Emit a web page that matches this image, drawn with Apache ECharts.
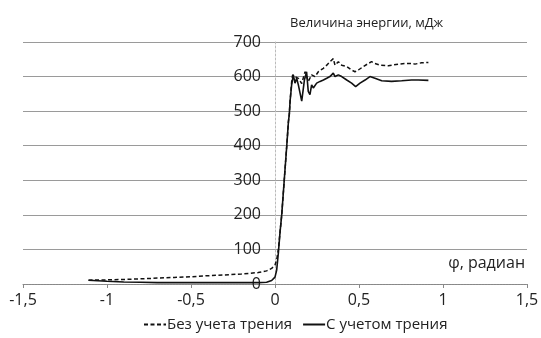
<!DOCTYPE html>
<html><head><meta charset="utf-8">
<script src="https://cdn.jsdelivr.net/npm/echarts@6/dist/echarts.min.js"></script>
<style>html,body{margin:0;padding:0;background:#fff}#c{width:541px;height:338px}</style>
</head><body><div id="c"></div>
<script>
const xTicks = [-1.5, -1, -0.5, 0, 0.5, 1, 1.5];
const yTicks = [0, 100, 200, 300, 400, 500, 600, 700];
const seriesNames = ['Без учета трения', 'С учетом трения'];
const xAxisName = 'φ, радиан';
const yAxisName = 'Величина энергии, мДж';

// Без учета трения (dashed)
const noFrictionX = [-1.11,-1.0,-0.9,-0.8,-0.7,-0.6,-0.5,-0.4,-0.3,-0.2,-0.1,-0.05,-0.02,0.0,0.01,0.02,0.03,0.04,0.055,0.07,0.08,0.085,0.09,0.1,
  0.105,0.119,0.139,0.159,0.179,0.198,0.218,0.238,0.258,0.288,0.308,0.327,0.347,0.357,0.377,0.397,0.427,0.456,0.476,0.496,0.526,0.556,0.575,0.595,0.625,0.675,0.734,0.774,0.813,0.833,0.873,0.913];
const noFrictionY = [11,12,13,15,17,19,21,24,26,29,33,38,45,55,70,100,150,200,300,400,470,490,530,590,
  605,600,595,580,614,586,605,600,614,624,633,643,652,633,643,633,629,619,614,619,629,638,643,638,633,631,636,638,638,636,640,641];

// С учетом трения (solid)
const frictionX = [-1.11,-1.0,-0.9,-0.8,-0.7,-0.5,-0.3,-0.1,-0.05,-0.02,0.0,0.01,0.02,0.03,0.04,0.055,0.07,0.08,0.085,0.09,
  0.099,0.109,0.119,0.129,0.139,0.159,0.175,0.188,0.198,0.208,0.218,0.228,0.248,0.268,0.288,0.308,0.327,0.347,0.357,0.377,0.397,0.427,0.456,0.48,0.506,0.536,0.565,0.595,0.635,0.694,0.754,0.813,0.853,0.913];
const frictionY = [11,8,6,5,4,4,4,4,5,10,20,40,90,150,200,300,400,470,490,530,
  576,605,581,595,576,529,590,614,557,548,576,567,581,586,590,595,600,610,600,605,600,590,581,571,581,590,600,595,588,586,588,590,590,589];

const zip = (xs, ys) => xs.map((x, i) => [x, ys[i]]);
const font = '"Open Sans", sans-serif';
const gridLeft = 23, gridRight = 14;
const plotW = 541 - gridLeft - gridRight;
const zeroOffset = plotW * (0 - xTicks[0]) / (xTicks[xTicks.length - 1] - xTicks[0]);
const chart = echarts.init(document.getElementById('c'), null, {renderer: 'canvas'});
chart.setOption({
  animation: false,
  backgroundColor: '#fff',
  textStyle: {fontFamily: font, color: '#222'},
  grid: {left: gridLeft, right: gridRight, top: 42, bottom: 54, containLabel: false, outerBoundsMode: 'none'},
  xAxis: {
    type: 'value', min: xTicks[0], max: xTicks[xTicks.length - 1], interval: 0.5,
    name: xAxisName, nameLocation: 'end', nameGap: -2,
    nameTextStyle: {fontFamily: font, fontSize: 16, color: '#222', align: 'right', verticalAlign: 'bottom', padding: [0, 0, 13, 0]},
    axisLine: {onZero: true, lineStyle: {color: '#888', type: [2, 1], width: 1}},
    axisTick: {show: true, length: 4, lineStyle: {color: '#888'}},
    axisLabel: {fontFamily: font, fontSize: 16, color: '#222', margin: 8,
      formatter: v => String(v).replace('.', ',')},
    splitLine: {show: false}
  },
  yAxis: {
    type: 'value', min: yTicks[0], max: yTicks[yTicks.length - 1], interval: 100,
    offset: -zeroOffset,
    name: yAxisName, nameLocation: 'end', nameGap: 12,
    nameTextStyle: {fontFamily: font, fontSize: 13, color: '#222', align: 'left', padding: [0, 0, 0, 15]},
    axisLine: {show: true, onZero: false, lineStyle: {color: '#bbb', type: [2, 2], width: 1}},
    axisTick: {show: false},
    axisLabel: {fontFamily: font, fontSize: 16, color: '#222', margin: 14},
    splitLine: {show: true, lineStyle: {color: '#9a9a9a', width: 1}}
  },
  legend: {
    bottom: 1, left: 138, itemWidth: 22, itemHeight: 10, itemGap: 10,
    itemStyle: {opacity: 0},
    textStyle: {fontFamily: font, fontSize: 15, color: '#222', padding: [0, 0, 0, -4]},
    data: seriesNames
  },
  series: [
    {name: seriesNames[0], type: 'line', data: zip(noFrictionX, noFrictionY), showSymbol: false, symbol: 'none',
      lineStyle: {color: '#111', width: 1.5, type: [4, 2.5]}, itemStyle: {color: '#111'}},
    {name: seriesNames[1], type: 'line', data: zip(frictionX, frictionY), showSymbol: false, symbol: 'none',
      lineStyle: {color: '#111', width: 1.6, type: 'solid'}, itemStyle: {color: '#111'}}
  ]
});
</script></body></html>
